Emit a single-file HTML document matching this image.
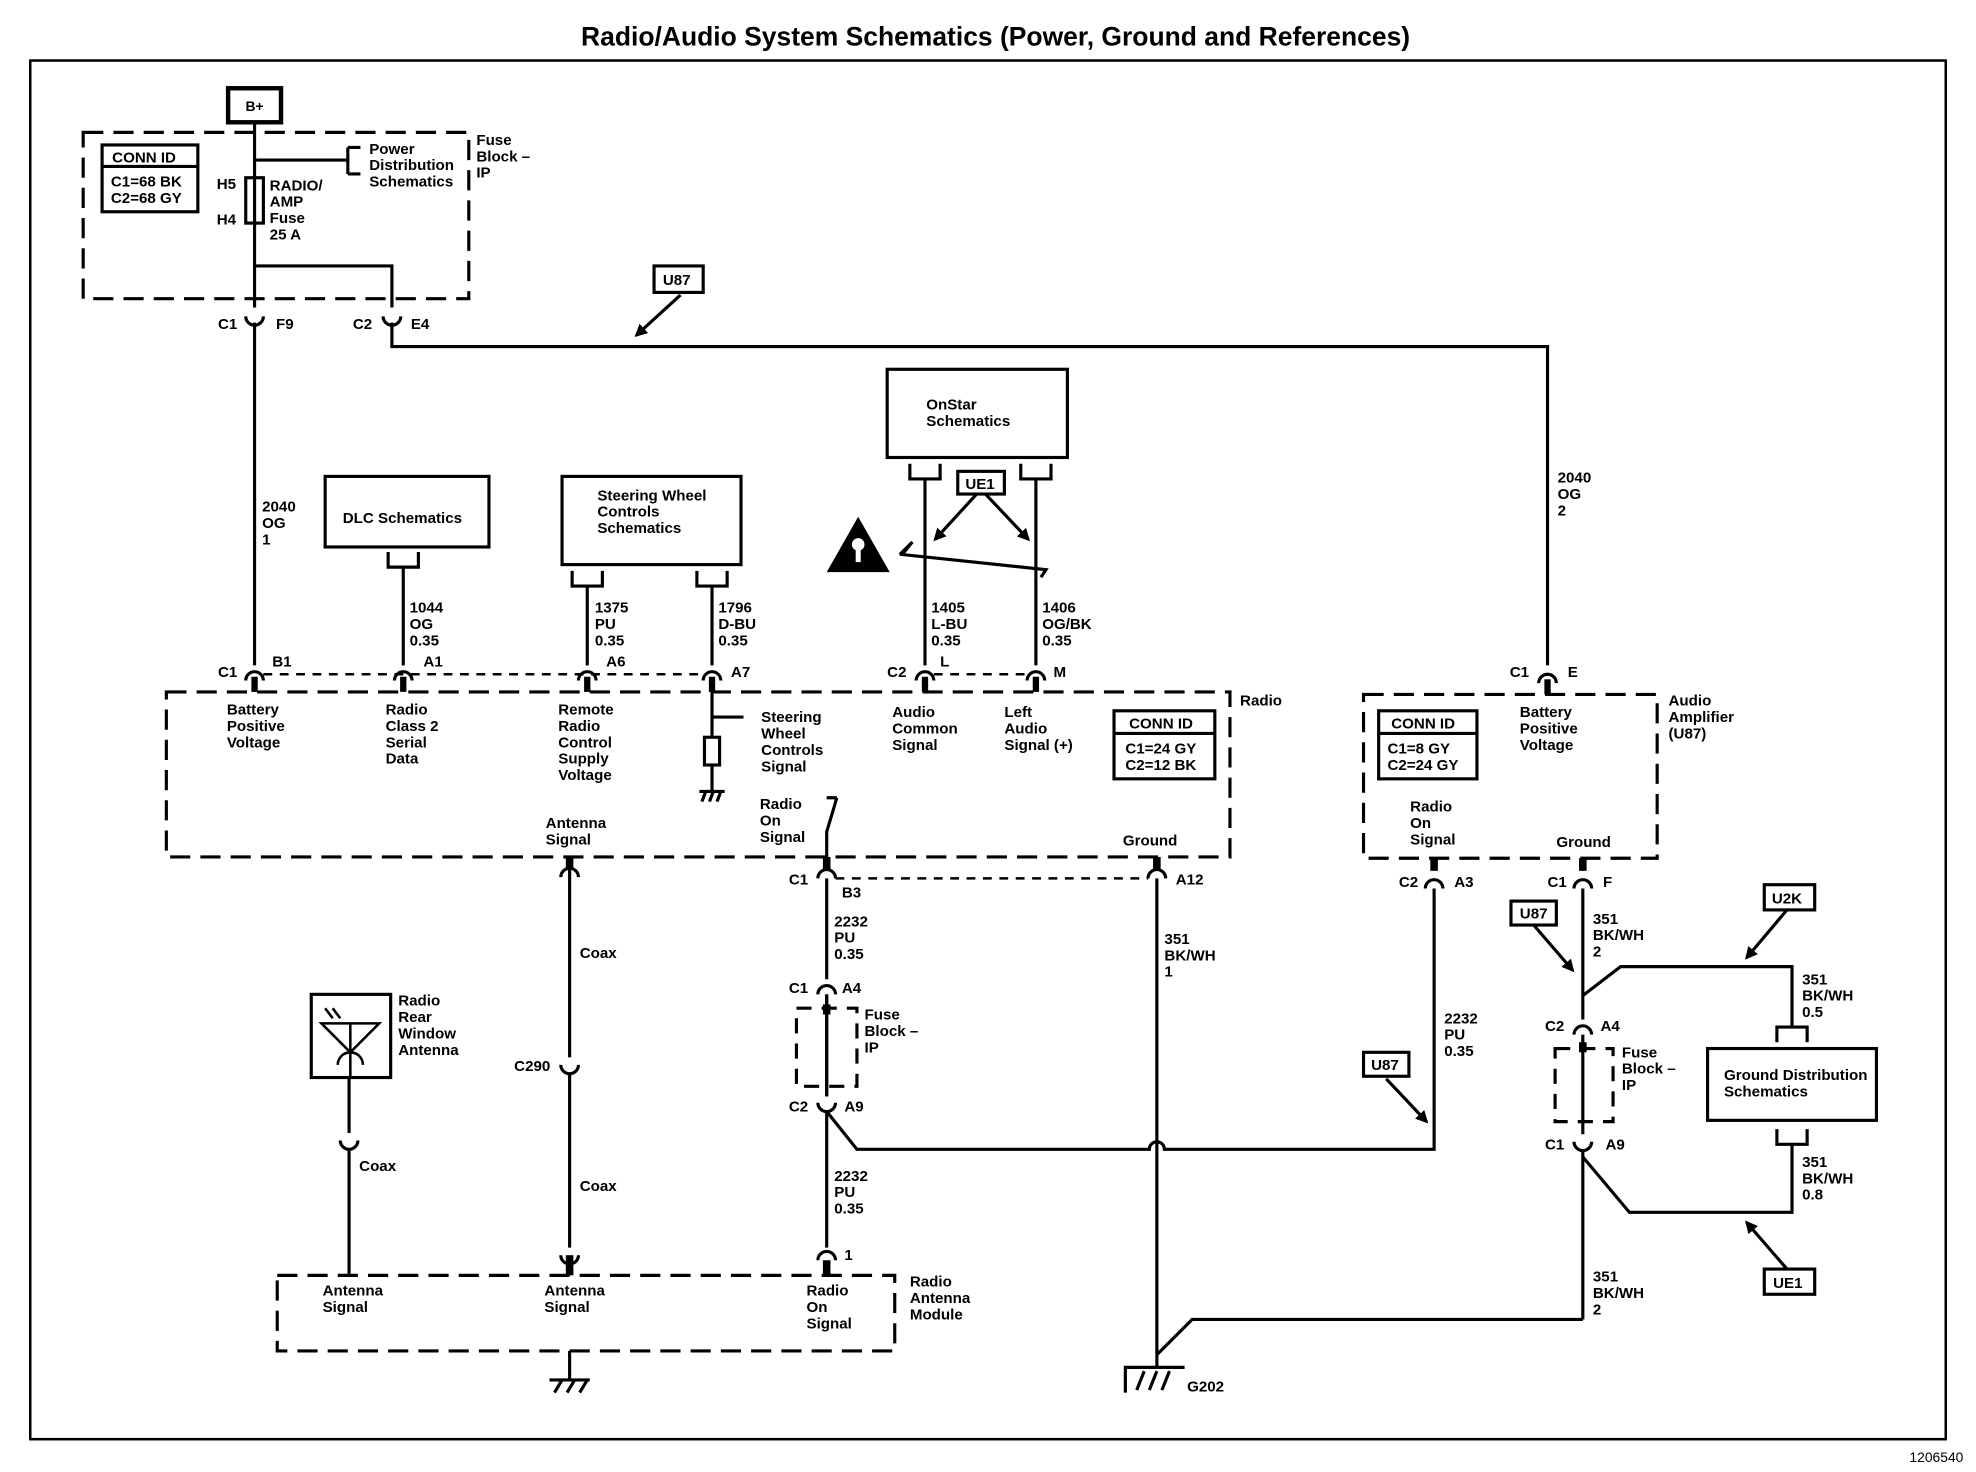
<!DOCTYPE html>
<html><head><style>
html,body{margin:0;padding:0;background:#fff}
svg{display:block}
text{font-family:"Liberation Sans",Arial,sans-serif;font-size:12px;font-weight:bold;fill:#000}
.t{font-size:12.5px}
</style></head><body>
<svg width="1976" height="1472" viewBox="0 0 1568 1168" xmlns="http://www.w3.org/2000/svg">
<defs>
<g id="cu"><path d="M-7,5 A7,7 0 0 1 7,5" fill="none" stroke="#000" stroke-width="2.5"/><rect x="-2.5" y="2" width="5" height="12" fill="#000"/></g>
<g id="cd"><path d="M-7,-5 A7,7 0 0 0 7,-5" fill="none" stroke="#000" stroke-width="2.5"/></g>
<g id="br"><path d="M-12,0 V12 H12 V0" fill="none" stroke="#000" stroke-width="2.5"/></g>
<marker id="ar" markerWidth="10" markerHeight="10" refX="8" refY="5" orient="auto" markerUnits="userSpaceOnUse"><path d="M0,0 L10,5 L0,10 z" fill="#000"/></marker>
</defs>
<rect width="1568" height="1168" fill="#fff"/>
<text x="790" y="36" text-anchor="middle" style="font-size:21px">Radio/Audio System Schematics (Power, Ground and References)</text>
<rect x="24" y="48" width="1520" height="1094" fill="none" stroke="#000" stroke-width="2"/>
<text x="1558" y="1160" text-anchor="end" style="font-size:11px;font-weight:normal">1206540</text>

<g fill="none" stroke="#000" stroke-width="2.5">
<!-- dashed boxes -->
<rect x="66" y="105" width="306" height="132" stroke-dasharray="16,8"/>
<rect x="132" y="549" width="844" height="131" stroke-dasharray="16,8"/>
<rect x="1082" y="551" width="233" height="130" stroke-dasharray="16,8"/>
<rect x="220" y="1012" width="490" height="60" stroke-dasharray="16,8"/>
<rect x="632" y="800" width="48" height="62" stroke-dasharray="12,8"/>
<rect x="1234" y="832" width="46" height="58" stroke-dasharray="12,8"/>
<!-- boxes -->
<rect x="181" y="70" width="42" height="27" stroke-width="3.5"/>
<rect x="81" y="115" width="76" height="53"/><line x1="81" y1="132" x2="157" y2="132"/>
<rect x="258" y="378" width="130" height="56"/>
<rect x="446" y="378" width="142" height="70"/>
<rect x="704" y="293" width="143" height="70"/>
<rect x="884" y="564" width="80" height="54"/><line x1="884" y1="582" x2="964" y2="582"/>
<rect x="1094" y="564" width="78" height="54"/><line x1="1094" y1="582" x2="1172" y2="582"/>
<rect x="1355" y="832" width="134" height="57"/>
<rect x="519" y="211" width="39" height="21"/>
<rect x="760" y="374" width="37" height="18"/>
<rect x="1082" y="835" width="36" height="19"/>
<rect x="1199" y="715" width="36" height="19"/>
<rect x="1400" y="702" width="40" height="20"/>
<rect x="1400" y="1007" width="40" height="20"/>
<rect x="247" y="789" width="63" height="66"/>
<!-- fuse -->
<rect x="195" y="141" width="14" height="36"/>
<!-- wires -->
<path d="M202,97 V244"/><path d="M202,127 H276"/><path d="M276,117 V138 M276,117 H286 M276,138 H286" />
<path d="M202,211 H311 V244"/>
<path d="M311,256 V275 H1228 V528"/>
<path d="M202,256 V528"/>
<path d="M320,450 V528"/><path d="M466,465 V528"/><path d="M565,465 V528"/>
<path d="M734,380 V528"/><path d="M822,380 V528"/>
<path d="M565,549 V585 M565,569 H590"/><rect x="559" y="585" width="12" height="22"/><path d="M565,607 V628"/>
<path d="M656,690 V660 L662,640"/><path d="M656,633 H664 M662,640 L664,633"/>
<path d="M452,690 V839 M452,851 V990"/>
<path d="M656,697 V777 M656,789 V870 M656,882 V990"/>
<path d="M656,882 L680,912 H912 A6,6 0 0 1 924,912 H1138 V705"/>
<path d="M918,697 V1085"/>
<path d="M918,1075 L946,1047 H1256"/>
<path d="M1256,705 V809 M1256,821 V900 M1256,912 V1047"/>
<path d="M1256,790 L1286,767 H1422 V815"/>
<path d="M1256,918 L1293,962 H1422 V908"/>
<path d="M277,855 V899 M277,911 V1012"/>
<path d="M452,1072 V1095"/>
<path d="M893,1105 V1085 H940"/>
<path d="M902,1103 L908,1088 M912,1103 L918,1088 M922,1103 L928,1088"/>
<path d="M436,1095 H468 M440,1105 L446,1095 M450,1105 L456,1095 M460,1105 L466,1095"/>
<path d="M555,628 H575 M557,636 L560,628 M563,636 L566,628 M569,636 L572,628"/>
<!-- break line -->
<path d="M714,440 L724,430 L716,440 L830,452 L826,458"/>
<!-- arrows -->
<path d="M540,234 L505,266" marker-end="url(#ar)"/>
<path d="M775,392 L742,428" marker-end="url(#ar)"/>
<path d="M782,392 L816,428" marker-end="url(#ar)"/>
<path d="M1100,856 L1132,890" marker-end="url(#ar)"/>
<path d="M1217,734 L1248,770" marker-end="url(#ar)"/>
<path d="M1418,722 L1386,760" marker-end="url(#ar)"/>
<path d="M1418,1007 L1386,970" marker-end="url(#ar)"/>
<!-- dotted -->
<path d="M209,535 H558 M741,535 H815 M663,697 H911" stroke-dasharray="7,6" stroke-width="2"/>
<!-- antenna glyph -->
<path d="M255,812 H301 L278,835 Z M278,812 V855 M268,845 A10,10 0 0 1 288,845" stroke-width="2"/>
<path d="M258,800 L264,808 M264,800 L270,808" stroke-width="2"/>
<!-- fuse block inner ticks -->
<path d="M656,789 V870" />
</g>
<!-- brackets -->
<use href="#br" x="320" y="438"/>
<use href="#br" x="466" y="453"/><use href="#br" x="565" y="453"/>
<use href="#br" x="734" y="368"/><use href="#br" x="822" y="368"/>
<g transform="translate(1422,827) scale(1,-1)"><use href="#br"/></g>
<use href="#br" x="1422" y="896"/>
<!-- connectors top of radio -->
<use href="#cu" x="202" y="535"/><use href="#cu" x="320" y="535"/><use href="#cu" x="466" y="535"/><use href="#cu" x="565" y="535"/>
<use href="#cu" x="734" y="535"/><use href="#cu" x="822" y="535"/><use href="#cu" x="1228" y="537"/>
<!-- connector F9/E4 -->
<use href="#cd" x="202" y="256"/><use href="#cd" x="311" y="256"/>
<!-- lower connectors -->
<g stroke="#000" stroke-width="2.5" fill="none">
<path d="M445,696 A7,7 0 0 1 459,696"/><path d="M649,697 A7,7 0 0 1 663,697"/><path d="M911,697 A7,7 0 0 1 925,697"/>
<path d="M1131,705 A7,7 0 0 1 1145,705"/><path d="M1249,705 A7,7 0 0 1 1263,705"/>
<path d="M649,789 A7,7 0 0 1 663,789"/><path d="M649,875 A7,7 0 0 0 663,875"/>
<path d="M1249,821 A7,7 0 0 1 1263,821"/><path d="M1249,906 A7,7 0 0 0 1263,906"/>
<path d="M445,845 A7,7 0 0 0 459,845"/><path d="M270,905 A7,7 0 0 0 284,905"/>
<path d="M445,996 A7,7 0 0 0 459,996"/><path d="M649,1000 A7,7 0 0 1 663,1000"/>
</g>
<g fill="#000"><rect x="449" y="680" width="6" height="10"/><rect x="653" y="680" width="6" height="10"/><rect x="915" y="680" width="6" height="10"/><rect x="1135" y="681" width="6" height="10"/><rect x="1253" y="681" width="6" height="10"/>
<rect x="449" y="996" width="6" height="16"/><rect x="653" y="1000" width="6" height="12"/>
<rect x="653" y="797" width="6" height="8"/><rect x="1253" y="827" width="6" height="8"/></g>
<!-- warning -->
<path d="M656,454 L681,410 L706,454 Z" fill="#000"/><circle cx="681" cy="432" r="5" fill="#fff"/><rect x="679" y="436" width="4" height="10" fill="#fff"/>

<!-- text -->
<text x="202" y="88" text-anchor="middle" style="font-size:11px">B+</text>
<text x="89" y="129">CONN ID</text>
<text x="88" y="148">C1=68 BK</text><text x="88" y="161">C2=68 GY</text>
<text x="293" y="122">Power</text><text x="293" y="135">Distribution</text><text x="293" y="148">Schematics</text>
<text x="378" y="115">Fuse</text><text x="378" y="128">Block –</text><text x="378" y="141">IP</text>
<text x="172" y="150">H5</text><text x="172" y="178">H4</text>
<text x="214" y="151">RADIO/</text><text x="214" y="164">AMP</text><text x="214" y="177">Fuse</text><text x="214" y="190">25 A</text>
<text x="173" y="261">C1</text><text x="219" y="261">F9</text><text x="280" y="261">C2</text><text x="326" y="261">E4</text>
<text x="526" y="226">U87</text>
<text x="208" y="406">2040</text><text x="208" y="419">OG</text><text x="208" y="432">1</text>
<text x="272" y="415">DLC Schematics</text>
<text x="474" y="397">Steering Wheel</text><text x="474" y="410">Controls</text><text x="474" y="423">Schematics</text>
<text x="735" y="325">OnStar</text><text x="735" y="338">Schematics</text>
<text x="766" y="388">UE1</text>
<text x="325" y="486">1044</text><text x="325" y="499">OG</text><text x="325" y="512">0.35</text>
<text x="472" y="486">1375</text><text x="472" y="499">PU</text><text x="472" y="512">0.35</text>
<text x="570" y="486">1796</text><text x="570" y="499">D-BU</text><text x="570" y="512">0.35</text>
<text x="739" y="486">1405</text><text x="739" y="499">L-BU</text><text x="739" y="512">0.35</text>
<text x="827" y="486">1406</text><text x="827" y="499">OG/BK</text><text x="827" y="512">0.35</text>
<text x="1236" y="383">2040</text><text x="1236" y="396">OG</text><text x="1236" y="409">2</text>
<text x="173" y="537">C1</text><text x="216" y="529">B1</text><text x="336" y="529">A1</text><text x="481" y="529">A6</text><text x="580" y="537">A7</text>
<text x="704" y="537">C2</text><text x="746" y="529">L</text><text x="836" y="537">M</text>
<text x="1198" y="537">C1</text><text x="1244" y="537">E</text>
<text x="984" y="560">Radio</text>
<text x="1324" y="560">Audio</text><text x="1324" y="573">Amplifier</text><text x="1324" y="586">(U87)</text>
<text x="180" y="567">Battery</text><text x="180" y="580">Positive</text><text x="180" y="593">Voltage</text>
<text x="306" y="567">Radio</text><text x="306" y="580">Class 2</text><text x="306" y="593">Serial</text><text x="306" y="606">Data</text>
<text x="443" y="567">Remote</text><text x="443" y="580">Radio</text><text x="443" y="593">Control</text><text x="443" y="606">Supply</text><text x="443" y="619">Voltage</text>
<text x="604" y="573">Steering</text><text x="604" y="586">Wheel</text><text x="604" y="599">Controls</text><text x="604" y="612">Signal</text>
<text x="708" y="569">Audio</text><text x="708" y="582">Common</text><text x="708" y="595">Signal</text>
<text x="797" y="569">Left</text><text x="797" y="582">Audio</text><text x="797" y="595">Signal (+)</text>
<text x="896" y="578">CONN ID</text><text x="893" y="598">C1=24 GY</text><text x="893" y="611">C2=12 BK</text>
<text x="1104" y="578">CONN ID</text><text x="1101" y="598">C1=8 GY</text><text x="1101" y="611">C2=24 GY</text>
<text x="1206" y="569">Battery</text><text x="1206" y="582">Positive</text><text x="1206" y="595">Voltage</text>
<text x="603" y="642">Radio</text><text x="603" y="655">On</text><text x="603" y="668">Signal</text>
<text x="433" y="657">Antenna</text><text x="433" y="670">Signal</text>
<text x="891" y="671">Ground</text>
<text x="1119" y="644">Radio</text><text x="1119" y="657">On</text><text x="1119" y="670">Signal</text>
<text x="1235" y="672">Ground</text>
<text x="626" y="702">C1</text><text x="668" y="712">B3</text><text x="933" y="702">A12</text>
<text x="1110" y="704">C2</text><text x="1154" y="704">A3</text><text x="1228" y="704">C1</text><text x="1272" y="704">F</text>
<text x="662" y="735">2232</text><text x="662" y="748">PU</text><text x="662" y="761">0.35</text>
<text x="924" y="749">351</text><text x="924" y="762">BK/WH</text><text x="924" y="775">1</text>
<text x="460" y="760">Coax</text>
<text x="1206" y="729">U87</text><text x="1406" y="717">U2K</text>
<text x="1264" y="733">351</text><text x="1264" y="746">BK/WH</text><text x="1264" y="759">2</text>
<text x="1430" y="781">351</text><text x="1430" y="794">BK/WH</text><text x="1430" y="807">0.5</text>
<text x="626" y="788">C1</text><text x="668" y="788">A4</text>
<text x="686" y="809">Fuse</text><text x="686" y="822">Block –</text><text x="686" y="835">IP</text>
<text x="1146" y="812">2232</text><text x="1146" y="825">PU</text><text x="1146" y="838">0.35</text>
<text x="1226" y="818">C2</text><text x="1270" y="818">A4</text>
<text x="1287" y="839">Fuse</text><text x="1287" y="852">Block –</text><text x="1287" y="865">IP</text>
<text x="1368" y="857">Ground Distribution</text><text x="1368" y="870">Schematics</text>
<text x="1088" y="849">U87</text>
<text x="408" y="850">C290</text>
<text x="316" y="798">Radio</text><text x="316" y="811">Rear</text><text x="316" y="824">Window</text><text x="316" y="837">Antenna</text>
<text x="626" y="882">C2</text><text x="670" y="882">A9</text>
<text x="1226" y="912">C1</text><text x="1274" y="912">A9</text>
<text x="1430" y="926">351</text><text x="1430" y="939">BK/WH</text><text x="1430" y="952">0.8</text>
<text x="285" y="929">Coax</text><text x="460" y="945">Coax</text>
<text x="662" y="937">2232</text><text x="662" y="950">PU</text><text x="662" y="963">0.35</text>
<text x="670" y="1000">1</text>
<text x="1407" y="1022">UE1</text>
<text x="1264" y="1017">351</text><text x="1264" y="1030">BK/WH</text><text x="1264" y="1043">2</text>
<text x="256" y="1028">Antenna</text><text x="256" y="1041">Signal</text>
<text x="432" y="1028">Antenna</text><text x="432" y="1041">Signal</text>
<text x="640" y="1028">Radio</text><text x="640" y="1041">On</text><text x="640" y="1054">Signal</text>
<text x="722" y="1021">Radio</text><text x="722" y="1034">Antenna</text><text x="722" y="1047">Module</text>
<text x="942" y="1104">G202</text>
</svg>
</body></html>
